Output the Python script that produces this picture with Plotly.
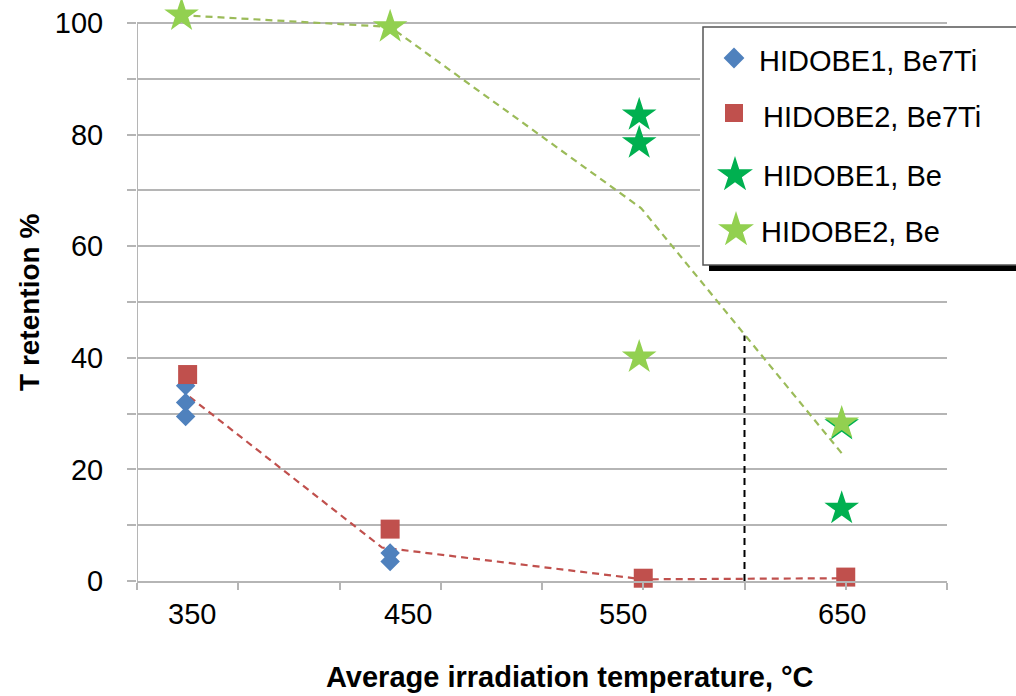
import plotly.graph_objects as go

# ---------------- data ----------------
h1_ti_x = [324, 324, 324, 425, 425]
h1_ti_y = [35.0, 32.0, 29.5, 5.0, 3.5]
h2_ti_x = [325, 425, 550, 650]
h2_ti_y = [37.0, 9.3, 0.5, 0.7]
h1_be_x = [548, 548, 648, 648]
h1_be_y = [83.5, 78.5, 28.0, 13.0]
h2_be_x = [322, 425, 548, 648]
h2_be_y = [101.4, 99.3, 40.1, 28.3]
trend_ti_x = [326, 421, 550, 650]
trend_ti_y = [33.0, 6.0, 0.3, 0.5]
trend_be_x = [322, 425, 549, 648]
trend_be_y = [101.4, 99.3, 66.8, 22.9]
limit_x = [600, 600]
limit_y = [0, 44]

x_label_pos = [327, 434, 540, 648]
x_label_text = ["350", "450", "550", "650"]
y_tick_vals = [0, 10, 20, 30, 40, 50, 60, 70, 80, 90, 100]
y_tick_text = ["0", "", "20", "", "40", "", "60", "", "80", "", "100"]
legend_names = ["HIDOBE1, Be7Ti", "HIDOBE2, Be7Ti", "HIDOBE1, Be", "HIDOBE2, Be"]

# ---------------- styling ----------------
FONT = "Liberation Sans, Arial, sans-serif"
C_BLUE = "#4f81bd"
C_RED = "#c0504d"
C_DGREEN = "#00b050"
C_LGREEN = "#92d050"
C_TREND_G = "#9bbb59"
GRID = "#b5b5b5"

W, H = 1016, 696
ML, MR, MT, MB = 137, 0, 6, 115
PW = W - ML - MR
PH = H - MT - MB
PX_PER_UNIT = 5.58                      # 0 -> y=581 px, 100 -> y=23 px
Y_TOP = 100 + (23 - MT) / PX_PER_UNIT   # little headroom so the top stars show

def px_to_xdom(px):
    return (px - ML) / PW

def px_to_ydom(py):
    return (H - MB - py) / PH

fig = go.Figure()

# trend lines
fig.add_trace(go.Scatter(x=trend_ti_x, y=trend_ti_y, mode="lines",
                         line=dict(color=C_RED, width=2.2, dash="7px,5px"),
                         hoverinfo="skip"))
fig.add_trace(go.Scatter(x=trend_be_x, y=trend_be_y, mode="lines",
                         line=dict(color=C_TREND_G, width=2.2, dash="7px,5px"),
                         hoverinfo="skip"))
fig.add_trace(go.Scatter(x=limit_x, y=limit_y, mode="lines",
                         line=dict(color="black", width=2, dash="7px,5px"),
                         hoverinfo="skip"))

# data markers
fig.add_trace(go.Scatter(x=h1_ti_x, y=h1_ti_y, mode="markers", name=legend_names[0],
                         marker=dict(symbol="diamond", size=15, color=C_BLUE), cliponaxis=False))
fig.add_trace(go.Scatter(x=h2_ti_x, y=h2_ti_y, mode="markers", name=legend_names[1],
                         marker=dict(symbol="square", size=19, color=C_RED), cliponaxis=False))
fig.add_trace(go.Scatter(x=h1_be_x, y=h1_be_y, mode="markers", name=legend_names[2],
                         marker=dict(symbol="star", size=26, color=C_DGREEN), cliponaxis=False))
fig.add_trace(go.Scatter(x=h2_be_x, y=h2_be_y, mode="markers", name=legend_names[3],
                         marker=dict(symbol="star", size=26, color=C_LGREEN), cliponaxis=False))

# ---------------- custom legend (subplot x2/y2 in pixel units) ----------------
LX0, LX1, LY0, LY1 = 700, 1016, 24, 278
leg_sym_x = [734, 734, 735, 736]
leg_sym_y = [58, 113, 175, 230]
leg_txt_x = [757, 761, 761, 759]
leg_txt_y = [61, 117, 176, 232]
leg_symbols = ["diamond", "square", "star", "star"]
leg_sizes = [16, 18, 27, 27]
leg_colors = [C_BLUE, C_RED, C_DGREEN, C_LGREEN]
for i in range(4):
    fig.add_trace(go.Scatter(x=[leg_sym_x[i]], y=[leg_sym_y[i]], mode="markers",
                             xaxis="x2", yaxis="y2", hoverinfo="skip",
                             marker=dict(symbol=leg_symbols[i], size=leg_sizes[i],
                                         color=leg_colors[i])))

shapes = [
    # y axis line (only from 0 to 100)
    dict(type="line", xref="x", yref="y", x0=300, x1=300, y0=0, y1=100,
         line=dict(color=GRID, width=2), layer="above"),
    # legend shadow + box
    dict(type="rect", xref="x2", yref="y2", x0=709, x1=1040, y0=33, y1=271,
         fillcolor="black", line=dict(width=0), layer="below"),
    dict(type="rect", xref="x2", yref="y2", x0=703, x1=1040, y0=27, y1=265,
         fillcolor="white", line=dict(color="#555555", width=1.5), layer="below"),
]

annotations = []
for i in range(4):
    annotations.append(dict(xref="x2", yref="y2", x=leg_txt_x[i], y=leg_txt_y[i],
                            text=legend_names[i], showarrow=False,
                            xanchor="left", yanchor="middle",
                            font=dict(family=FONT, size=29, color="black")))

# x tick labels
for xv, tt in zip(x_label_pos, x_label_text):
    annotations.append(dict(xref="x", yref="paper", x=xv, y=px_to_ydom(614),
                            text=tt, showarrow=False, xanchor="center", yanchor="middle",
                            font=dict(family=FONT, size=29, color="black")))

# axis titles
annotations.append(dict(xref="paper", yref="paper", x=px_to_xdom(570), y=px_to_ydom(677),
                        text="<b>Average irradiation temperature, °C</b>", showarrow=False,
                        xanchor="center", yanchor="middle",
                        font=dict(family=FONT, size=29, color="black")))
annotations.append(dict(xref="paper", yref="paper", x=px_to_xdom(29), y=px_to_ydom(303),
                        text="<b>T retention %</b>", showarrow=False, textangle=-90,
                        xanchor="center", yanchor="middle",
                        font=dict(family=FONT, size=28, color="black")))

fig.update_layout(
    width=W, height=H,
    margin=dict(l=ML, r=MR, t=MT, b=MB, pad=0),
    paper_bgcolor="white", plot_bgcolor="white",
    showlegend=False,
    font=dict(family=FONT, size=29, color="black"),
    xaxis=dict(domain=[0, (947 - ML) / PW], range=[300, 700],
               tickvals=[300, 350, 400, 450, 500, 550, 600, 650, 700],
               showticklabels=False, ticks="outside", ticklen=7, tickwidth=2,
               tickcolor=GRID, showgrid=False, zeroline=False,
               showline=True, linecolor=GRID, linewidth=2),
    yaxis=dict(range=[0, Y_TOP], tickvals=y_tick_vals, ticktext=y_tick_text,
               ticks="outside", ticklen=9, tickwidth=2, tickcolor=GRID,
               ticklabelstandoff=18,
               tickfont=dict(family=FONT, size=29, color="black"),
               showgrid=True, gridcolor=GRID, gridwidth=2, zeroline=False,
               showline=False),
    xaxis2=dict(domain=[px_to_xdom(LX0), 1], range=[LX0, LX1], visible=False,
                anchor="y2", fixedrange=True),
    yaxis2=dict(domain=[px_to_ydom(LY1), px_to_ydom(LY0)], range=[LY1, LY0],
                visible=False, anchor="x2", fixedrange=True),
    shapes=shapes,
    annotations=annotations,
)

fig.write_html("out.html")
